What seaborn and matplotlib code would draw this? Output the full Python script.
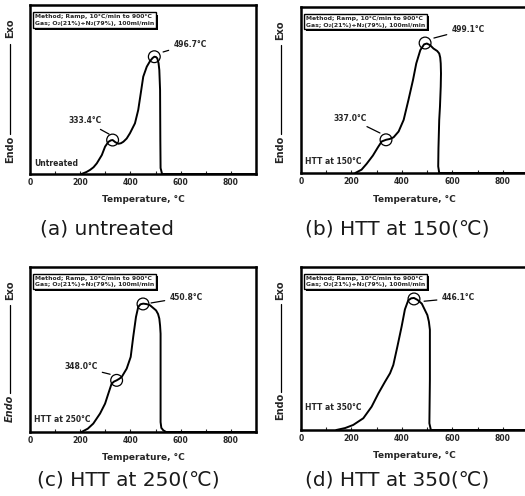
import matplotlib
matplotlib.use('Agg')
import matplotlib.pyplot as plt
import matplotlib.patheffects as pe
import seaborn as sns

# DTA curves: temperature (°C) and signal (% of the axis height)
a_temp = [205, 225, 239, 253, 266, 286, 299, 312, 322, 329, 340, 352, 362, 372, 385, 398, 418, 431, 441, 451, 465, 478, 488, 495, 502, 507, 512, 515, 518, 519, 520, 526, 900]
a_sig = [0, 1.2, 2.4, 4.0, 6.3, 11.2, 16.2, 19.0, 19.9, 20.1, 18.8, 17.9, 18.2, 19.1, 21.0, 24.1, 30.0, 37.9, 47.7, 57.6, 63.5, 66.8, 68.6, 69.4, 69.2, 68.4, 65.5, 61.5, 49.7, 20.0, 3.5, 0, 0]

b_temp = [215, 240, 260, 285, 305, 320, 337, 352, 367, 387, 407, 426, 444, 457, 473, 488, 499, 512, 525, 540, 548, 552, 554, 555, 554, 551, 548, 545, 544, 548, 900]
b_sig = [0, 2.0, 5.5, 10.5, 15.5, 19.0, 20.0, 20.5, 21.5, 25.0, 32.0, 44.0, 56.0, 66.0, 74.0, 77.5, 78.0, 77.0, 75.0, 73.5, 72.0, 69.5, 66.0, 60.0, 52.0, 40.0, 32.0, 15.0, 4.0, 0, 0]

c_temp = [205, 230, 252, 279, 299, 312, 325, 335, 345, 355, 365, 385, 401, 411, 422, 431, 440, 451, 465, 478, 502, 510, 515, 518, 520, 520, 520, 523, 531, 542, 900]
c_sig = [0, 2.0, 5.1, 11.2, 17.2, 23.3, 29.3, 30.6, 31.3, 32.2, 33.3, 38.4, 45.5, 57.6, 69.7, 75.8, 77.4, 77.8, 77.5, 76.8, 73.7, 71.5, 68.7, 64.5, 59.6, 25.0, 6.0, 2.5, 1.0, 0, 0]

d_temp = [140, 175, 207, 247, 280, 307, 333, 353, 366, 382, 399, 412, 425, 437, 448, 462, 479, 501, 507, 511, 511, 509, 515, 900]
d_sig = [0, 1.2, 3.1, 7.2, 14.3, 22.5, 29.6, 34.8, 39.9, 51.1, 63.5, 74.0, 79.5, 80.8, 81.0, 79.8, 77.5, 70.5, 66.5, 61.5, 30.7, 4.1, 0, 0]

# circled peaks: (temperature, signal) and their labels
a_marks = [(329, 20.1), (495, 69.4)]
b_marks = [(337, 20.0), (492, 78.3)]
c_marks = [(345, 31.3), (450, 77.6)]
d_marks = [(448, 80.4)]
a_notes = ['333.4°C', '496.7°C']
b_notes = ['337.0°C', '499.1°C']
c_notes = ['348.0°C', '450.8°C']
d_notes = ['446.1°C']

samples = ['Untreated', 'HTT at 150°C', 'HTT at 250°C', 'HTT at 350°C']
captions = ['(a) untreated', '(b) HTT at 150(℃)', '(c) HTT at 250(℃)', '(d) HTT at 350(℃)']
tick_vals = [0, 200, 400, 600, 800]

method_text = 'Method; Ramp, 10°C/min to 900°C\nGas; O₂(21%)+N₂(79%), 100ml/min'

sns.set_style('white')
plt.rcParams['font.family'] = ['DejaVu Sans']

W, H = 525, 496
fig = plt.figure(figsize=(W / 100, H / 100), dpi=100)


def px_box(left, right, top, bottom):
    return [left / W, 1 - bottom / H, (right - left) / W, (bottom - top) / H]


# axes boxes in pixels (left, right, top, bottom)
boxes = [px_box(30, 256, 5, 174), px_box(301, 528, 7, 173),
         px_box(30, 256, 267, 432), px_box(301, 528, 267, 430)]

# text positions for the labels (text x, text y, line end x, line end y) in data units
note_pos = [
    [(219, 31.4, 315, 23.6), (637, 76.9, 530, 72.2)],
    [(194, 33.0, 313, 24.1), (662, 86.7, 527, 81.3)],
    [(203, 39.4, 319, 35.0), (621, 81.8, 482, 78.2)],
    [(623, 81.0, 488, 79.0)],
]
sample_y = [6.5, 7.2, 7.3, 14.1]
cap_xy = [(40, 229), (305, 229), (37, 480), (305, 480)]

curves = [(a_temp, a_sig), (b_temp, b_sig), (c_temp, c_sig), (d_temp, d_sig)]
marks = [a_marks, b_marks, c_marks, d_marks]
notes = [a_notes, b_notes, c_notes, d_notes]

for i in range(4):
    ax = fig.add_axes(boxes[i])
    temp, sig = curves[i]
    sns.lineplot(x=temp, y=sig, ax=ax, color='black', lw=1.4, estimator=None, sort=False)

    mx = [m[0] for m in marks[i]]
    my = [m[1] for m in marks[i]]
    ax.scatter(mx, my, s=72, facecolors='none', edgecolors='black', linewidths=0.9, zorder=3)

    for note, (tx, ty, lx, ly) in zip(notes[i], note_pos[i]):
        ax.annotate(note, xy=(lx, ly), xytext=(tx, ty), ha='center', va='center',
                    fontsize=5.5, fontweight='bold',
                    arrowprops=dict(arrowstyle='-', lw=0.9, color='black', shrinkA=1, shrinkB=0))

    ax.text(15, sample_y[i], samples[i], ha='left', va='center', fontsize=5.5, fontweight='bold')

    box = ax.text(0.02, 0.945, method_text, transform=ax.transAxes, ha='left', va='top',
                  fontsize=4.4, fontweight='bold', linespacing=1.35,
                  bbox=dict(boxstyle='square,pad=0.3', fc='white', ec='black', lw=1.0))
    box.get_bbox_patch().set_path_effects([
        pe.SimplePatchShadow(offset=(1.5, -1.5), shadow_rgbFace='black', alpha=1.0),
        pe.Normal()])

    ax.set_xlim(0, 900)
    ax.set_ylim(0, 100)
    ax.set_xticks(tick_vals)
    ax.set_xticklabels([str(t) for t in tick_vals], fontsize=5.5, fontweight='bold')
    ax.set_xticks(range(100, 900, 200), minor=True)
    ax.tick_params(axis='x', which='both', direction='in', length=2.5, width=0.8, pad=3, bottom=True)
    ax.set_yticks([])
    ax.set_xlabel('Temperature, °C', fontsize=6.5, fontweight='bold', labelpad=6)
    ax.set_ylabel('')
    for s in ax.spines.values():
        s.set_linewidth(1.8)
        s.set_color('black')
    if i in (1, 3):
        ax.spines['right'].set_visible(False)

    # Endo ---- Exo axis label
    ax.text(-0.09, 0.145, 'Endo', rotation=90, transform=ax.transAxes, ha='center', va='center',
            fontsize=7, fontweight='bold', style='italic' if i == 2 else 'normal')
    ax.text(-0.09, 0.86, 'Exo', rotation=90, transform=ax.transAxes, ha='center', va='center',
            fontsize=7, fontweight='bold')
    ax.plot([-0.09, -0.09], [0.235, 0.77], transform=ax.transAxes, color='black', lw=0.9, clip_on=False)

    cx, cy = cap_xy[i]
    fig.text(cx / W, 1 - cy / H, captions[i], ha='left', va='center', fontsize=14.5,
             family=['DejaVu Sans', 'Noto Sans CJK KR'], color='#1a1a1a')

fig.savefig('out.png', dpi=100)
